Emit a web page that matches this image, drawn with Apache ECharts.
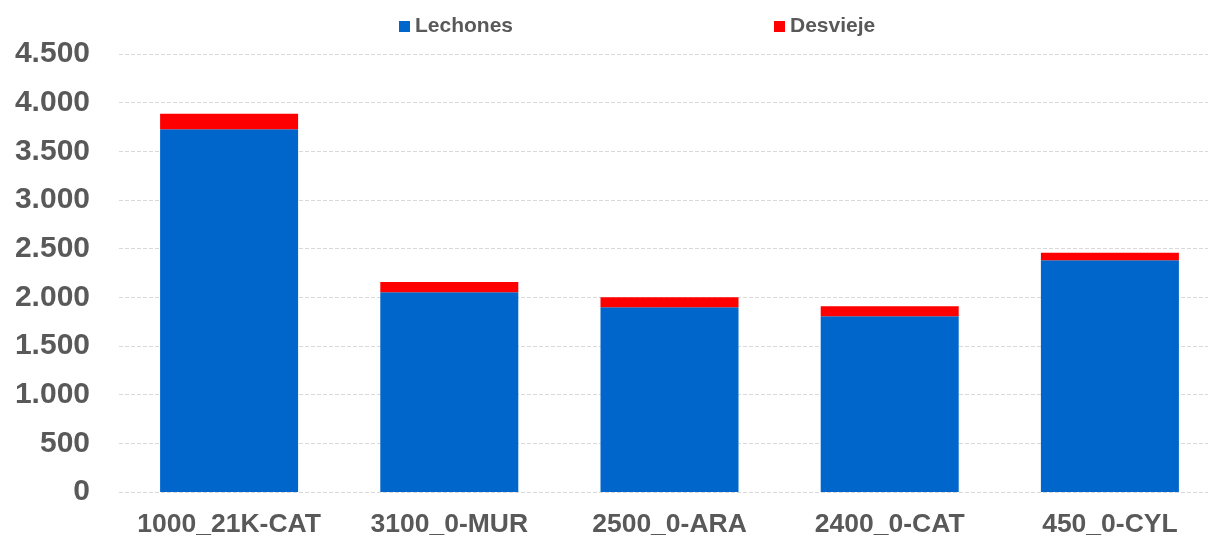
<!DOCTYPE html>
<html><head><meta charset="utf-8">
<script src="https://cdn.jsdelivr.net/npm/echarts@6/dist/echarts.min.js"></script>
<style>html,body{margin:0;padding:0;background:#fff}#c{width:1208px;height:537px}</style>
</head><body><div id="c"></div>
<script>
const categories = ['1000_21K-CAT','3100_0-MUR','2500_0-ARA','2400_0-CAT','450_0-CYL'];
const lechones = [3727, 2052, 1898, 1805, 2381];
const desvieje = [160, 106, 102, 103, 78];
const yTicks = {min: 0, max: 4500, interval: 500};

const chart = echarts.init(document.getElementById('c'));
const fmt = v => String(v).replace(/\B(?=(\d{3})+(?!\d))/g, '.');
chart.setOption({
  animation: false,
  textStyle: {fontFamily: 'Liberation Sans, Arial, sans-serif'},
  legend: {
    left: 394, top: 11, itemWidth: 11, itemHeight: 11, itemGap: 261,
    icon: 'rect',
    textStyle: {fontSize: 21, fontWeight: 'bold', color: '#595959'},
    data: ['Lechones', 'Desvieje']
  },
  grid: {left: 119, width: 1101, top: 54, bottom: 45, containLabel: false, outerBoundsMode: 'none'},
  xAxis: {
    type: 'category', data: categories,
    axisLine: {show: false}, axisTick: {show: false},
    axisLabel: {fontSize: 26.5, fontWeight: 'bold', color: '#595959', margin: 19, interval: 0}
  },
  yAxis: {
    type: 'value', min: yTicks.min, max: yTicks.max, interval: yTicks.interval,
    axisLine: {show: false}, axisTick: {show: false},
    axisLabel: {fontSize: 30, fontWeight: 'bold', color: '#595959', margin: 29, formatter: fmt},
    splitLine: {lineStyle: {color: '#d9d9d9', type: 'dashed', width: 1}}
  },
  series: [
    {name: 'Lechones', type: 'bar', stack: 's', data: lechones, barWidth: 138,
     itemStyle: {color: '#0066CC'}},
    {name: 'Desvieje', type: 'bar', stack: 's', data: desvieje, barWidth: 138,
     itemStyle: {color: '#FF0000'}}
  ]
});
</script></body></html>
